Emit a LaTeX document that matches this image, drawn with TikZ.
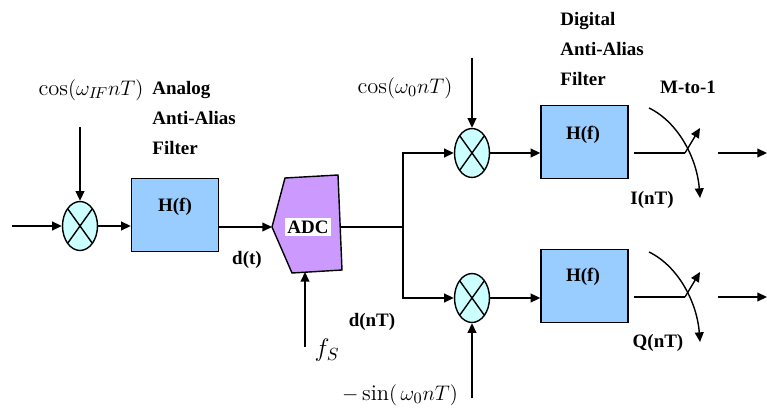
\documentclass[tikz,border=0pt]{standalone}
\usepackage{fontspec}
\newfontfamily\tnr{Liberation Serif}
\usetikzlibrary{arrows.meta,shapes.geometric}
\definecolor{filtblue}{HTML}{99CCFF}
\definecolor{mixcyan}{HTML}{CCFFFF}
\definecolor{adcpurple}{HTML}{CC99FF}

\begin{document}
\begin{tikzpicture}[x=0.02cm,y=-0.02cm,line width=0.8pt,
  sig/.style={-{Triangle[length=5.5pt,width=5pt]}},
  filt/.style={draw,fill=filtblue,minimum width=1.74cm,minimum height=1.46cm,inner sep=0pt},
  mix/.style={draw,ellipse,fill=mixcyan,minimum width=0.7cm,minimum height=0.98cm,inner sep=0pt,
    path picture={\draw (path picture bounding box.north west) -- (path picture bounding box.south east)
      (path picture bounding box.north east) -- (path picture bounding box.south west);}},
  txt/.style={font=\tnr\bfseries\fontsize{10.8}{17}\selectfont,inner sep=1pt},
  eq/.style={font=\fontsize{12.8}{15}\selectfont,inner sep=1pt}]
  \useasboundingbox (0,0) rectangle (767,412);
  % analog front end
  \coordinate (in) at (12,226);
  \node[mix] (mixA) at (80,226) {};
  \node[eq] (cosIF) at (91,90) {$\cos(\omega_{I\!F}nT)$};
  \coordinate (loA) at (80,127);
  \node[filt] (filtA) at (175,215) {};
  \node[txt] (hA) at (175,207) {H(f)};
  \node[txt,align=left,anchor=west] (aaA) at (150,118) {Analog\\Anti-Alias\\Filter};
  \draw[sig] (in) -- (mixA);
  \draw[sig] (loA) -- (mixA);
  \draw[sig] (mixA) -- (mixA -| filtA.west);
  % ADC
  \draw[fill=adcpurple] (272,227) coordinate (adcIn) -- (285,178) -- (338,175) -- (342,270) -- (292,273) -- cycle;
  \node[txt,fill=white,inner sep=1.5pt] (adc) at (308,227) {ADC};
  \coordinate (adcOut) at (340,227);
  \draw[sig] (filtA.east |- adcIn) -- (adcIn);
  \node[txt] (dt) at (247,260) {d(t)};
  \coordinate (fsFoot) at (305,347);
  \coordinate (fsTip) at (305,272);
  \draw[sig] (fsFoot) -- (fsTip);
  \node[font=\Large,inner sep=1pt] (fs) at (327,350) {$f_S$};
  % I/Q mixers
  \coordinate (split) at (403,227);
  \node[mix] (mixI) at (472,153) {};
  \node[mix] (mixQ) at (472,298) {};
  \draw (adcOut) -- (split);
  \draw[sig] (split) |- (mixI);
  \draw[sig] (split) |- (mixQ);
  \node[txt] (dnT) at (372,322) {d(nT)};
  \node[eq] (cos0) at (405,88) {$\cos(\omega_0 nT)$};
  \node[eq] (sin0) at (400,395) {$-\sin(\,\omega_0 nT)$};
  \coordinate (loI) at (472,58);
  \coordinate (loQ) at (472,398);
  \draw[sig] (loI) -- (mixI);
  \draw[sig] (loQ) -- (mixQ);
  % digital filters
  \node[filt] (filtI) at (584.5,142) {};
  \node[filt] (filtQ) at (584.5,286) {};
  \node[txt] (hI) at (583,135) {H(f)};
  \node[txt] (hQ) at (583,277) {H(f)};
  \node[txt,align=left,anchor=west] (aaD) at (558,49) {Digital\\Anti-Alias\\Filter};
  \draw[sig] (mixI) -- (mixI -| filtI.west);
  \draw[sig] (mixQ) -- (mixQ -| filtQ.west);
  % decimators
  \node[txt] (mto1) at (688,87) {M-to-1};
  \coordinate (swI) at (685,153);
  \coordinate (swItip) at (700,128);
  \coordinate (outIa) at (718,153);
  \coordinate (outIb) at (767,153);
  \draw ([xshift=0.1cm]filtI.east |- swI) -- (swI);
  \draw[sig] (swI) -- (swItip);
  \draw[sig] (649,108) .. controls (678,122) and (697,158) .. (700,198);
  \draw[sig] (outIa) -- (outIb);
  \node[txt] (iI) at (652,200) {I(nT)};
  \coordinate (swQ) at (685,297);
  \coordinate (swQtip) at (700,272);
  \coordinate (outQa) at (718,297);
  \coordinate (outQb) at (767,297);
  \draw ([xshift=0.1cm]filtQ.east |- swQ) -- (swQ);
  \draw[sig] (swQ) -- (swQtip);
  \draw[sig] (649,252) .. controls (678,266) and (697,302) .. (700,342);
  \draw[sig] (outQa) -- (outQb);
  \node[txt] (qQ) at (658,343) {Q(nT)};
\end{tikzpicture}
\end{document}
